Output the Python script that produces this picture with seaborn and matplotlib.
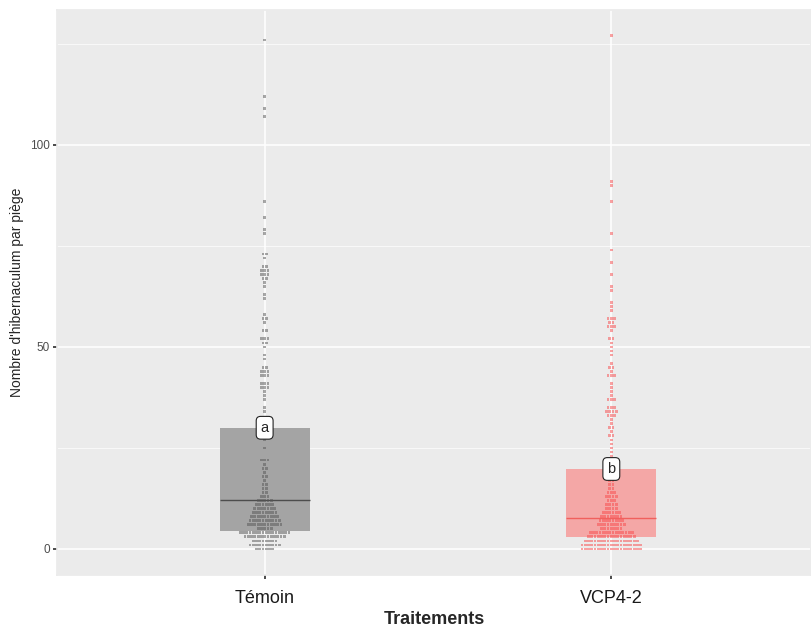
import numpy as np
import pandas as pd
import matplotlib
matplotlib.use("Agg")
import matplotlib.pyplot as plt
from matplotlib.ticker import FixedLocator
import seaborn as sns

####
#data
####

groups = ["Témoin", "VCP4-2"]
letters = ["a", "b"]

# lower hinge, median, upper hinge per group
box_low = [4.5, 3.0]
box_mid = [12.0, 7.7]
box_high = [30.0, 19.8]

# trap counts (value, number of traps)
temoin_vals = [0, 1, 2, 3, 4, 5, 6, 7, 8, 9, 10, 11, 12, 13, 14, 15, 16, 17, 18, 19,
               20, 21, 22, 25, 27, 29, 32, 34, 35, 37, 38, 39, 40, 41, 43, 44, 45, 47,
               48, 50, 51, 52, 54, 56, 57, 58, 62, 63, 65, 66, 67, 68, 69, 70, 72, 73,
               78, 79, 82, 86, 107, 109, 112, 126]
temoin_counts = [6, 10, 8, 13, 16, 5, 11, 10, 9, 8, 7, 6, 5, 3, 2, 2, 2, 1, 2, 1,
                 2, 1, 3, 1, 1, 1, 1, 1, 1, 1, 1, 1, 3, 3, 3, 3, 2, 1,
                 1, 1, 2, 3, 2, 1, 2, 1, 1, 1, 1, 1, 2, 3, 3, 2, 1, 2,
                 1, 1, 1, 1, 1, 1, 1, 1]

vcp_vals = [0, 1, 2, 3, 4, 5, 6, 7, 8, 9, 10, 11, 12, 13, 14, 15, 16, 17, 18, 19,
            20, 21, 22, 23, 24, 25, 26, 27, 28, 29, 30, 31, 32, 33, 34, 35, 37, 38,
            39, 40, 41, 43, 44, 45, 46, 48, 49, 50, 51, 52, 54, 55, 56, 57, 59, 60,
            61, 64, 65, 68, 71, 74, 78, 86, 90, 91, 127]
vcp_counts = [19, 19, 17, 15, 14, 7, 9, 8, 7, 6, 4, 4, 3, 4, 3, 2, 2, 2, 1, 1,
              2, 1, 1, 1, 1, 1, 1, 1, 2, 1, 2, 1, 1, 3, 4, 3, 3, 1,
              1, 1, 1, 3, 1, 2, 1, 1, 1, 1, 1, 2, 1, 3, 2, 3, 1, 1,
              1, 1, 1, 1, 1, 1, 1, 1, 1, 1, 1]

box_colors = ["#A4A4A4", "#F4A7A6"]
mid_colors = ["#4D4D4D", "#F0605D"]
dot_colors = ["#555555", "#F8484A"]

####
#defs
####

def stack_dots(vals, counts, pos, step=0.0094):
    # centred horizontal stacking, like a dotplot
    xs, ys = [], []
    for v, k in zip(vals, counts):
        offs = (np.arange(k) - (k - 1) / 2) * step
        xs.extend(pos + offs)
        ys.extend([v] * k)
    return xs, ys


def main():
    sns.set_theme(style="darkgrid", rc={
        "axes.facecolor": "#EBEBEB",
        "grid.color": "white",
        "axes.edgecolor": "#EBEBEB",
    })
    plt.rcParams["font.family"] = ["Liberation Sans", "DejaVu Sans"]

    rows = []
    for i, (vals, counts) in enumerate([(temoin_vals, temoin_counts), (vcp_vals, vcp_counts)]):
        xs, ys = stack_dots(vals, counts, i)
        rows.append(pd.DataFrame({"x": xs, "y": ys, "grp": groups[i]}))
    dots = pd.concat(rows, ignore_index=True)

    fig = plt.figure(figsize=(8.11, 6.28), dpi=100)
    ax = fig.add_axes([57 / 811, 1 - 575 / 628, 754 / 811, 565 / 628])

    # boxes
    for i in range(2):
        ax.bar(i, box_high[i] - box_low[i], bottom=box_low[i], width=0.26,
               color=box_colors[i], edgecolor="none", zorder=2)
        ax.hlines(box_mid[i], i - 0.13, i + 0.13, color=mid_colors[i], lw=1.0, zorder=3)

    sns.scatterplot(data=dots, x="x", y="y", hue="grp", palette=dot_colors,
                    s=4, marker="s", alpha=0.5, edgecolor="none", legend=False,
                    ax=ax, zorder=4)

    for i in range(2):
        ax.text(i, box_high[i], letters[i], ha="center", va="center", fontsize=10.5,
                zorder=5, bbox=dict(boxstyle="round,pad=0.3", fc="white", ec="#222222", lw=0.8))

    ax.set_xlim(-0.599, 1.576)
    ax.set_ylim(-6.44, 133.4)
    ax.set_xticks([0, 1])
    ax.set_xticklabels(groups)
    ax.set_yticks([0, 50, 100])
    ax.yaxis.set_minor_locator(FixedLocator([25, 75, 125]))
    ax.grid(which="major", lw=1.1)
    ax.grid(which="minor", axis="y", lw=0.5, color="white")
    ax.tick_params(axis="y", which="major", length=3, color="#333333", labelsize=8.5,
                   labelcolor="#4D4D4D", pad=2, left=True)
    ax.tick_params(axis="x", which="major", length=3, color="#333333", labelsize=13,
                   labelcolor="#1A1A1A", pad=8, bottom=True)
    ax.tick_params(which="minor", length=0)

    ax.set_xlabel("Traitements", fontsize=13, fontweight="bold")
    ax.set_ylabel("Nombre d'hibernaculum par piège", fontsize=10)
    ax.xaxis.set_label_coords(0.5, -0.063)
    ax.yaxis.set_label_coords(-0.044, 0.5)

    fig.savefig("out.png", dpi=100, facecolor="white")
    plt.close(fig)


if __name__ == '__main__':
    main()
